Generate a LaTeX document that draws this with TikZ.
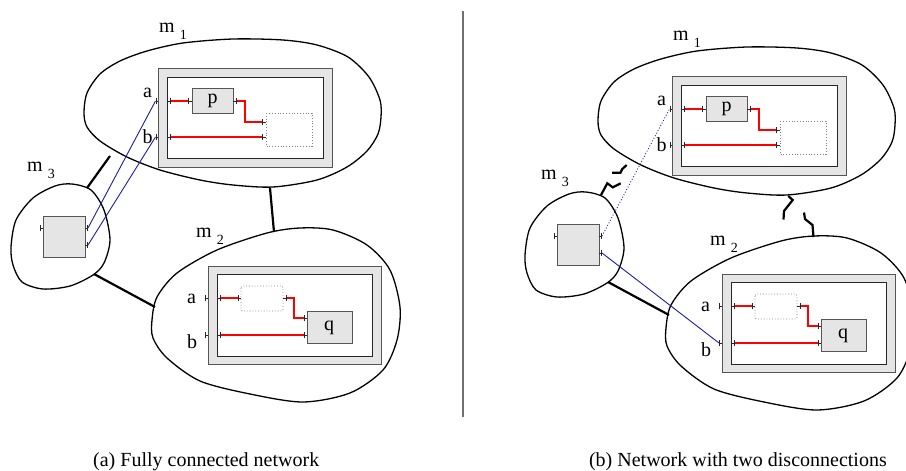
\documentclass[tikz,border=0pt]{standalone}
\usepackage{fontspec}
\setmainfont{Liberation Serif}
\usetikzlibrary{arrows.meta}
\definecolor{boxgray}{HTML}{E5E5E5}
\definecolor{edgegray}{HTML}{555555}
\definecolor{linkblue}{HTML}{1C1CA8}
\definecolor{sepgray}{HTML}{707070}
\definecolor{wirered}{HTML}{FF0000}
\tikzset{
  blob/.style={draw=black, line width=1.3pt},
  outerbox/.style={draw=edgegray, fill=boxgray, line width=0.9pt},
  innerbox/.style={draw=black!85, fill=white, line width=0.9pt},
  compbox/.style={draw=edgegray, fill=boxgray, line width=0.9pt},
  ghostbox/.style={draw=gray, dotted, line width=0.8pt},
  portmark/.style={draw=black!85, line width=1pt, -{Bar[width=6.5pt,line width=1pt]}},
  redwire/.style={draw=wirered, line width=1.1pt},
  netlink/.style={draw=black, line width=2.2pt, line join=miter},
  vlink/.style={draw=linkblue, line width=0.9pt},
  lbl/.style={font=\fontsize{20}{24}\selectfont, inner sep=0pt},
}
\newcommand\mlabel[2]{m\hspace{5pt}\raisebox{-7pt}{\fontsize{14}{16}\selectfont #2}}
\newcommand\drawpanel[1]{%
  % blobs
  \draw[blob] plot[smooth cycle, tension=0.5] coordinates {(84,113) (87,93) (100,74) (120,61) (147,51) (183,43) (233,39) (283,40) (317,45) (348,57) (369,77) (380,100) (381,117) (378,134) (367,151) (347,167) (317,180) (273,187) (233,185) (200,180) (160,170) (127,157) (100,141) (87,127)};
  \draw[blob] plot[smooth cycle, tension=0.5] coordinates {(11,247) (16,220) (33,198) (55,186) (72,184) (91,190) (104,210) (110,240) (104,263) (93,275) (70,286) (43,289) (22,282) (13,265)};
  \draw[blob] plot[smooth cycle, tension=0.5] coordinates {(152,320) (157,297) (177,273) (217,250) (267,233) (300,228) (333,230) (367,245) (390,270) (400,307) (397,340) (383,370) (350,393) (303,402) (250,394) (200,381) (167,358) (153,338)};
  % labels of machines
  \node[lbl, anchor=base west] (#1lm1) at (159,32) {\mlabel{m}{1}};
  \node[lbl, anchor=base west] (#1lm3) at (27,171) {\mlabel{m}{3}};
  \node[lbl, anchor=base west] (#1lm2) at (196,237) {\mlabel{m}{2}};
  % m1 component
  \draw[outerbox] (158,68) rectangle (332,167);
  \draw[innerbox] (167,77) rectangle (323,158);
  \node[compbox, minimum width=41pt, minimum height=25pt, inner sep=0pt] (#1p) at (212.5,100.5) {};
  \node[lbl] (#1pt) at (212.5,101) {p};
  \draw[ghostbox] (266,113) rectangle (312,146);
  \draw[portmark] (158,101) -- (155.5,101) coordinate (#1m1a);
  \draw[portmark] (158,137) -- (155.5,137) coordinate (#1m1b);
  \draw[portmark] (167,101) -- (171,101) coordinate (#1m1ia);
  \draw[portmark] (167,137) -- (171,137) coordinate (#1m1ib);
  \draw[portmark] (192,101) -- (188,101) coordinate (#1pin);
  \draw[portmark] (233,101) -- (237,101) coordinate (#1pout);
  \draw[portmark] (266,122) -- (262,122) coordinate (#1g1a);
  \draw[portmark] (266,137) -- (262,137) coordinate (#1g1b);
  \draw[redwire] (#1m1ia) -- (#1pin);
  \draw[redwire] (#1pout) -- ++(8,0) |- (#1g1a);
  \draw[redwire] (#1m1ib) -- (#1g1b);
  \node[lbl, anchor=base] (#1la1) at (147.5,97) {a};
  \node[lbl, anchor=base] (#1lb1) at (147.5,143) {b};
  % m3 component
  \node[compbox, minimum width=42pt, minimum height=41pt, inner sep=0pt] (#1c3) at (64,236.5) {};
  \draw[portmark] (43,228) -- (40,228) coordinate (#1m3p0);
  \draw[portmark] (85,228) -- (88,228) coordinate (#1m3p1);
  \draw[portmark] (85,245) -- (88,245) coordinate (#1m3p2);
  % m2 component
  \draw[outerbox] (208,266) rectangle (381,364);
  \draw[innerbox] (217,274) rectangle (372,356);
  \draw[ghostbox, rounded corners=2pt] (241,286) rectangle (283,311);
  \node[compbox, minimum width=45pt, minimum height=32pt, inner sep=0pt] (#1q) at (329.5,327) {};
  \node[lbl] (#1qt) at (329,327.5) {q};
  \draw[portmark] (208,298) -- (205,298) coordinate (#1m2a);
  \draw[portmark] (208,335) -- (205,335) coordinate (#1m2b);
  \draw[portmark] (217,298) -- (220.5,298) coordinate (#1m2ia);
  \draw[portmark] (217,335) -- (220.5,335) coordinate (#1m2ib);
  \draw[portmark] (241,298) -- (237.5,298) coordinate (#1g2in);
  \draw[portmark] (283,298) -- (286.5,298) coordinate (#1g2out);
  \draw[portmark] (307,318) -- (303.5,318) coordinate (#1qa);
  \draw[portmark] (307,335) -- (303.5,335) coordinate (#1qb);
  \draw[redwire] (#1m2ia) -- (#1g2in);
  \draw[redwire] (#1g2out) -- ++(7.5,0) |- (#1qa);
  \draw[redwire] (#1m2ib) -- (#1qb);
  \node[lbl, anchor=base] (#1la2) at (191.5,303) {a};
  \node[lbl, anchor=base] (#1lb2) at (192,348) {b};
  % link m3--m2 (present in both panels)
  \coordinate (#1k32a) at (94,274);
  \coordinate (#1k32b) at (155,307);
  \draw[netlink] (#1k32a) -- (#1k32b);
}
\begin{document}
\begin{tikzpicture}[x=1pt,y=-1pt]
  \useasboundingbox (0,0) rectangle (906,471);
  \clip (0,0) rectangle (906,471);
  % ---- left panel
  \drawpanel{L}
  \coordinate (Lk13a) at (110,156);
  \coordinate (Lk13b) at (87,188);
  \coordinate (Lk12a) at (270,188);
  \coordinate (Lk12b) at (274,232);
  \draw[netlink] (Lk13a) -- (Lk13b);
  \draw[netlink] (Lk12a) -- (Lk12b);
  \draw[vlink] (Lm3p1) -- (Lm1a);
  \draw[vlink] (Lm3p2) -- (Lm1b);
  % ---- separator
  \coordinate (septop) at (463,11);
  \coordinate (sepbot) at (463,417);
  \draw[sepgray, line width=1.2pt] (septop) -- (sepbot);
  % ---- right panel
  \begin{scope}[shift={(514,8)}]
    \drawpanel{R}
  \end{scope}
  \coordinate (Rk13a) at (626.7,165);
  \coordinate (Rk13b) at (601,195);
  \draw[netlink] (Rk13a) -- (622.3,169) -- (620.5,172.7) -- (612,172.7);
  \draw[netlink] (Rk13b) -- (607.3,183.3) -- (612.7,187.3) -- (620.7,183.3);
  \coordinate (Rk12a) at (788.3,196);
  \coordinate (Rk12b) at (813.5,237);
  \draw[netlink] (Rk12a) -- (792.7,200) -- (784,211) -- (783.5,219.5);
  \draw[netlink] (Rk12b) -- (812.5,225) -- (805,219) -- (804,212.5);
  \draw[vlink, dotted] (Rm3p1) -- (Rm1a);
  \draw[vlink] (Rm3p2) -- (Rm2b);
  % ---- captions
  \node[lbl, anchor=base west] (capa) at (93,466) {(a) Fully connected network};
  \node[lbl, anchor=base east] (capb) at (887,466) {(b) Network with two disconnections};
\end{tikzpicture}
\end{document}
